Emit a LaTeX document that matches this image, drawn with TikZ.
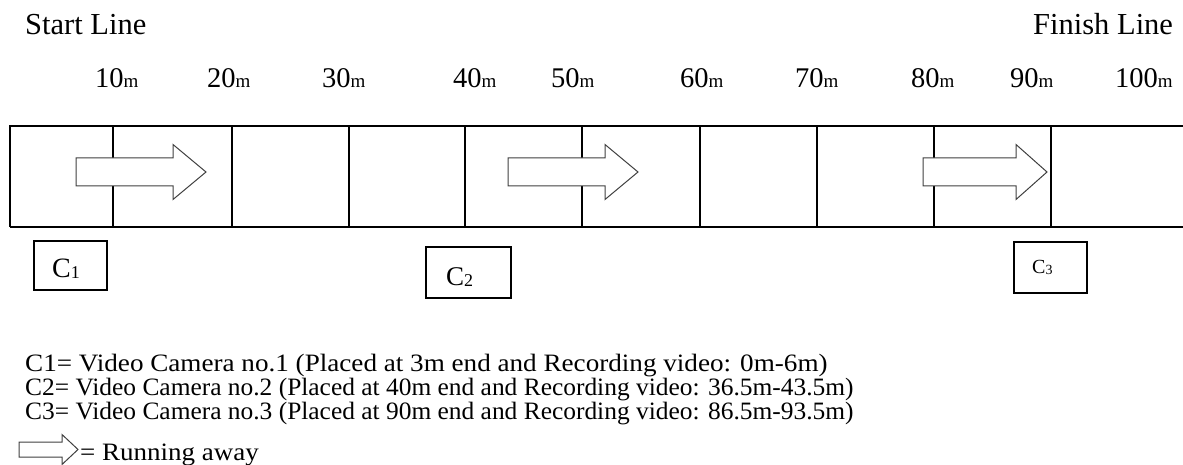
\documentclass[tikz,border=0pt]{standalone}
\usepackage{fontspec}
\setmainfont{Liberation Serif}
\tikzset{
  track/.style={line width=1.1pt, black},
  runarrow/.style={draw=black!75, line width=1pt, fill=white, line join=miter},
  cambox/.style={draw, line width=1.2pt, inner sep=0pt},
  camlabel/.style={anchor=base west, inner sep=0pt},
  heading/.style={anchor=base west, inner sep=0pt, font=\fontsize{30.5}{30}\selectfont},
  distlabel/.style={anchor=base west, inner sep=0pt},
  legend/.style={anchor=base west, inner sep=0pt, font=\fontsize{25}{24}\selectfont}
}
% distance label: large digits followed by a small "m"
\newcommand\dist[1]{{\fontsize{28.5}{28}\selectfont #1}{\fontsize{19}{19}\selectfont m}}
% camera name: capital C with a small, slightly lowered index
\newcommand\camname[3]{{\fontsize{#2}{#2}\selectfont C}\raisebox{-1pt}{\fontsize{#3}{#3}\selectfont #1}}
% block arrow: tail x, head base x, tip x, centre y, shaft half height, head half height
\newcommand\blockarrow[6]{%
  \draw[runarrow] (#1,#4-#5) -- (#2,#4-#5) -- (#2,#4-#6) -- (#3,#4)
    -- (#2,#4+#6) -- (#2,#4+#5) -- (#1,#4+#5) -- cycle;}
\begin{document}
\begin{tikzpicture}[x=1pt,y=-1pt]
\useasboundingbox (0,0) rectangle (1183,465);

% headings
\node[heading] (start) at (25,35) {Start Line};
\node[heading] (finish) at (1033,35) {Finish Line};

% distance marks
\foreach \d/\x in {10/95,20/207,30/322,40/453,50/551,60/680,70/795,80/911,90/1010,100/1115}
  \node[distlabel] (m\d) at (\x,88) {\dist{\d}};

% track outline and lane divisions
\draw[track] (10,227) -- (10,126) -- (1184,126);
\draw[track] (10,227) -- (1184,227);
\foreach \x in {113,232,349,465,582,700,817,934,1051}
  \draw[track] (\x,126) -- (\x,227);

% running direction arrows
\blockarrow{76}{173}{206}{172}{14}{27.5}
\blockarrow{508}{605}{638}{172}{14}{27.5}
\blockarrow{923}{1016}{1047}{172}{14}{27.5}

% cameras
\node[cambox, minimum width=73pt, minimum height=49pt] (c1) at (70.5,265.5) {};
\node[camlabel] (c1name) at (52,277) {\camname{1}{28}{18}};
\node[cambox, minimum width=85pt, minimum height=51pt] (c2) at (468.5,272.5) {};
\node[camlabel] (c2name) at (446,285) {\camname{2}{27}{18}};
\node[cambox, minimum width=73pt, minimum height=51pt] (c3) at (1050.5,267.5) {};
\node[camlabel] (c3name) at (1032,273) {\camname{3}{20}{14}};

% legend
\node[legend] (l1) at (25,371) {\scalebox{1.085}[1]{C1= Video Camera no.1 (Placed at 3m end and Recording video: 0m-6m)}};
\node[legend] (l2) at (25,395) {\scalebox{1.017}[1]{C2= Video Camera no.2 (Placed at 40m end and Recording video: 36.5m-43.5m)}};
\node[legend] (l3) at (25,419) {\scalebox{1.017}[1]{C3= Video Camera no.3 (Placed at 90m end and Recording video: 86.5m-93.5m)}};
\blockarrow{19}{62}{78}{449.5}{7.5}{15}
\node[legend] (l4) at (80,460) {\scalebox{1.08}[1]{= Running away}};
\end{tikzpicture}
\end{document}
